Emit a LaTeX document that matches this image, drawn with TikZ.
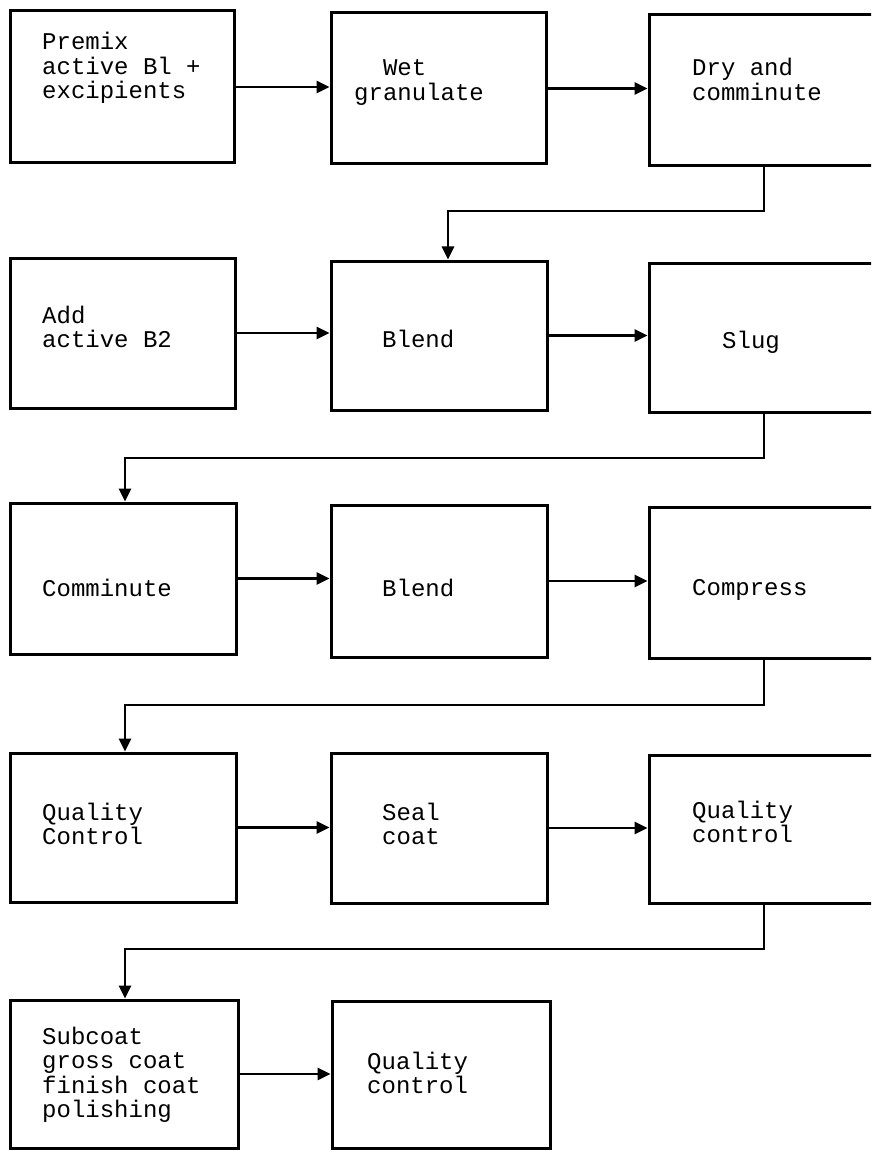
\documentclass[tikz,border=0pt]{standalone}
\usepackage{fontspec}
\newfontfamily\tw{Liberation Mono}
\usetikzlibrary{arrows.meta}
\begin{document}
\begin{tikzpicture}[x=1pt,y=-1pt,
  box/.style={draw, line width=3pt, rectangle, inner sep=0pt},
  lbl/.style={anchor=base west, inner sep=0pt, align=left, font=\tw\fontsize{24}{24.5}\selectfont},
  conn/.style={line width=2.8pt, -{Triangle[length=13pt,width=12pt]}}]
\useasboundingbox (0,0) rectangle (871,1150);
\clip (0,0) rectangle (871,1150);
\fill[white] (0,0) rectangle (871,1150);
% row 1
\node[box, minimum width=224pt, minimum height=152pt] (a1) at (122,87) {};
\node[box, minimum width=215pt, minimum height=151pt] (a2) at (438.5,88.5) {};
\node[box, minimum width=230pt, minimum height=151pt] (a3) at (764,90.5) {};
% row 2
\node[box, minimum width=225pt, minimum height=150pt] (b1) at (122.5,333) {};
\node[box, minimum width=216pt, minimum height=149pt] (b2) at (439,335.5) {};
\node[box, minimum width=230pt, minimum height=149pt] (b3) at (764,337.5) {};
% row 3
\node[box, minimum width=226pt, minimum height=151pt] (c1) at (123,578.5) {};
\node[box, minimum width=216pt, minimum height=152pt] (c2) at (439,581) {};
\node[box, minimum width=230pt, minimum height=151pt] (c3) at (764,582.5) {};
% row 4
\node[box, minimum width=226pt, minimum height=149pt] (d1) at (123,827.5) {};
\node[box, minimum width=216pt, minimum height=150pt] (d2) at (439,828) {};
\node[box, minimum width=230pt, minimum height=148pt] (d3) at (764,829) {};
% row 5
\node[box, minimum width=228pt, minimum height=148pt] (e1) at (124,1074) {};
\node[box, minimum width=218pt, minimum height=147pt] (e2) at (441,1074.5) {};
% labels (anchor = baseline of last line)
\node[lbl] (ta1) at (42,99) {Premix\\active Bl +\\excipients};
\node[lbl] (ta2) at (354,100.5) {\hphantom{WW}Wet\\granulate};
\node[lbl] (ta3) at (692,100.5) {Dry and\\comminute};
\node[lbl] (tb1) at (42,347.5) {Add\\active B2};
\node[lbl] (tb2) at (382,347) {Blend};
\node[lbl] (tb3) at (722,348) {Slug};
\node[lbl] (tc1) at (42,596) {Comminute};
\node[lbl] (tc2) at (382,596) {Blend};
\node[lbl] (tc3) at (692,595) {Compress};
\node[lbl] (td1) at (42,844.5) {Quality\\Control};
\node[lbl] (td2) at (382,844.5) {Seal\\coat};
\node[lbl] (td3) at (692,842.5) {Quality\\control};
\node[lbl] (te1) at (42,1117.5) {Subcoat\\gross coat\\finish coat\\polishing};
\node[lbl] (te2) at (367,1093.5) {Quality\\control};
% horizontal arrows
\draw[conn] (a1.east) -- (a1.east -| a2.west);
\draw[conn] (a2.east) -- (a2.east -| a3.west);
\draw[conn] (b1.east) -- (b1.east -| b2.west);
\draw[conn] (b2.east) -- (b2.east -| b3.west);
\draw[conn] (c1.east) -- (c1.east -| c2.west);
\draw[conn] (c2.east) -- (c2.east -| c3.west);
\draw[conn] (d1.east) -- (d1.east -| d2.west);
\draw[conn] (d2.east) -- (d2.east -| d3.west);
\draw[conn] (e1.east) -- (e1.east -| e2.west);
% return connectors
\coordinate (k1) at (448,211);
\coordinate (k2) at (125,458);
\coordinate (k3) at (125,705);
\coordinate (k4) at (125,949);
\draw[conn] (a3.south) |- (k1) -- (k1 |- b2.north);
\draw[conn] (b3.south) |- (k2) -- (k2 |- c1.north);
\draw[conn] (c3.south) |- (k3) -- (k3 |- d1.north);
\draw[conn] (d3.south) |- (k4) -- (k4 |- e1.north);
\end{tikzpicture}
\end{document}
